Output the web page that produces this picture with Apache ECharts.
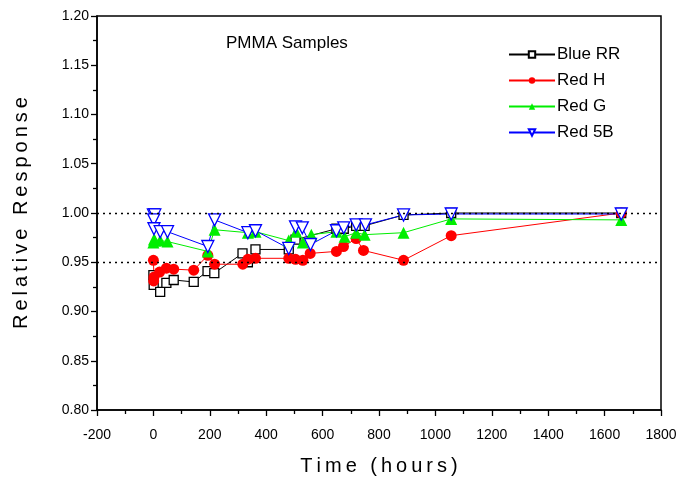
<!DOCTYPE html>
<html><head><meta charset="utf-8">
<script src="https://cdn.jsdelivr.net/npm/echarts@6/dist/echarts.min.js"></script>
<style>html,body{margin:0;padding:0;background:#fff}#c{width:681px;height:481px}</style>
</head><body><div id="c"></div>
<script>
var seriesNames = ['Blue RR', 'Red H', 'Red G', 'Red 5B'];
var xTicks = [-200, 0, 200, 400, 600, 800, 1000, 1200, 1400, 1600, 1800];
var yTicks = [0.80, 0.85, 0.90, 0.95, 1.00, 1.05, 1.10, 1.15, 1.20];
var refLines = [1.00, 0.95];

var blueRR = [[0,0.937],[1,0.927],[24,0.920],[46,0.929],[72,0.932],[143,0.930],[192,0.941],[216,0.939],
  [316,0.959],[335,0.950],[362,0.963],[480,0.963],[504,0.973],[649,0.984],[675,0.984],[719,0.987],[749,0.987],
  [887,0.998],[1056,1.000],[1659,1.000]];
var redH = [[0,0.952],[2,0.935],[1,0.931],[22,0.940],[46,0.944],[72,0.943],[143,0.942],[193,0.957],[217,0.948],
  [317,0.948],[335,0.953],[362,0.954],[480,0.954],[504,0.953],[530,0.952],[556,0.959],[649,0.961],[674,0.966],
  [719,0.974],[745,0.962],[887,0.952],[1056,0.977],[1659,1.000]];
var redG = [[0,0.970],[5,0.972],[2,0.973],[24,0.972],[50,0.971],[193,0.961],[217,0.983],[335,0.980],[362,0.981],
  [480,0.972],[506,0.981],[530,0.970],[560,0.978],[649,0.981],[678,0.976],[719,0.980],[749,0.978],
  [887,0.980],[1056,0.994],[1659,0.993]];
var red5B = [[0,0.998],[5,0.998],[1,0.993],[2,0.984],[24,0.981],[50,0.981],[193,0.966],[217,0.993],[335,0.980],
  [362,0.982],[480,0.964],[504,0.986],[528,0.985],[557,0.968],[649,0.982],[675,0.985],[719,0.988],[752,0.988],
  [887,0.998],[1056,0.999],[1659,0.999]];

var font = 'Liberation Sans, Arial, Helvetica, sans-serif';
var chart = echarts.init(document.getElementById('c'));
function spaced(s){ return s.split('').join('\u2009'); }

var styles = [
  {color:'#000000', symbol:'rect', size:9, fill:'#ffffff'},
  {color:'#ff0000', symbol:'circle', size:11, fill:'#ff0000'},
  {color:'#00ee00', symbol:'triangle', size:12, fill:'#00ee00'},
  {color:'#0000ff', symbol:'path://M0,0 L10,0 L5,10 Z', size:12, fill:'#ffffff'}
];
var datas = [blueRR, redH, redG, red5B];

var series = datas.map(function(d, i){
  var st = styles[i];
  var s = {
    name: seriesNames[i], type: 'line', data: d, symbol: st.symbol, symbolSize: st.size,
    showAllSymbol: true, animation: false,
    lineStyle: {color: st.color, width: 1},
    itemStyle: {color: st.fill, borderColor: st.color, borderWidth: (st.fill === '#ffffff') ? 1.3 : 0}
  };
  if (i === 0) {
    s.markLine = {
      silent: true, symbol: 'none', label: {show: false},
      lineStyle: {color: '#000', type: [2, 4], width: 1.3},
      data: refLines.map(function(v){ return {yAxis: v}; })
    };
  }
  return s;
});

chart.setOption({
  backgroundColor: '#fff',
  animation: false,
  grid: {left: 97, right: 20, top: 16, bottom: 71, show: true, borderColor: '#000', borderWidth: 1.5,
    containLabel: false, outerBoundsMode: 'none'},
  title: {text: 'PMMA Samples', left: 221, top: 30,
    textStyle: {fontFamily: font, fontSize: 17, fontWeight: 'normal', color: '#000'}},
  legend: {
    orient: 'vertical', left: 503, top: 41, itemWidth: 46, itemHeight: 8, itemGap: 9,
    data: seriesNames,
    textStyle: {fontFamily: font, fontSize: 17, color: '#000', padding: [0,0,0,-3]}
  },
  xAxis: {
    type: 'value', min: xTicks[0], max: xTicks[xTicks.length-1], interval: 200,
    name: spaced('Time (hours)'), nameLocation: 'middle', nameGap: 46,
    nameTextStyle: {fontFamily: font, fontSize: 20, color: '#000'},
    axisLine: {onZero: false, lineStyle: {color: '#000', width: 1.5}},
    axisTick: {length: 6, lineStyle: {color: '#000', width: 1.3}},
    minorTick: {show: true, splitNumber: 2, length: 4, lineStyle: {color: '#000', width: 1.3}},
    splitLine: {show: false},
    axisLabel: {fontFamily: font, fontSize: 14, color: '#000', margin: 18,
      formatter: function(v){ return String(v); }}
  },
  yAxis: {
    type: 'value', min: yTicks[0], max: yTicks[yTicks.length-1], interval: 0.05,
    name: spaced('Relative Response'), nameLocation: 'middle', nameGap: 66, nameRotate: 90,
    nameTextStyle: {fontFamily: font, fontSize: 20, color: '#000'},
    axisLine: {onZero: false, lineStyle: {color: '#000', width: 1.5}},
    axisTick: {length: 6, lineStyle: {color: '#000', width: 1.3}},
    minorTick: {show: true, splitNumber: 2, length: 4, lineStyle: {color: '#000', width: 1.3}},
    splitLine: {show: false},
    axisLabel: {fontFamily: font, fontSize: 14, color: '#000', margin: 8,
      formatter: function(v){ return v.toFixed(2); }}
  },
  series: series
});
</script></body></html>
